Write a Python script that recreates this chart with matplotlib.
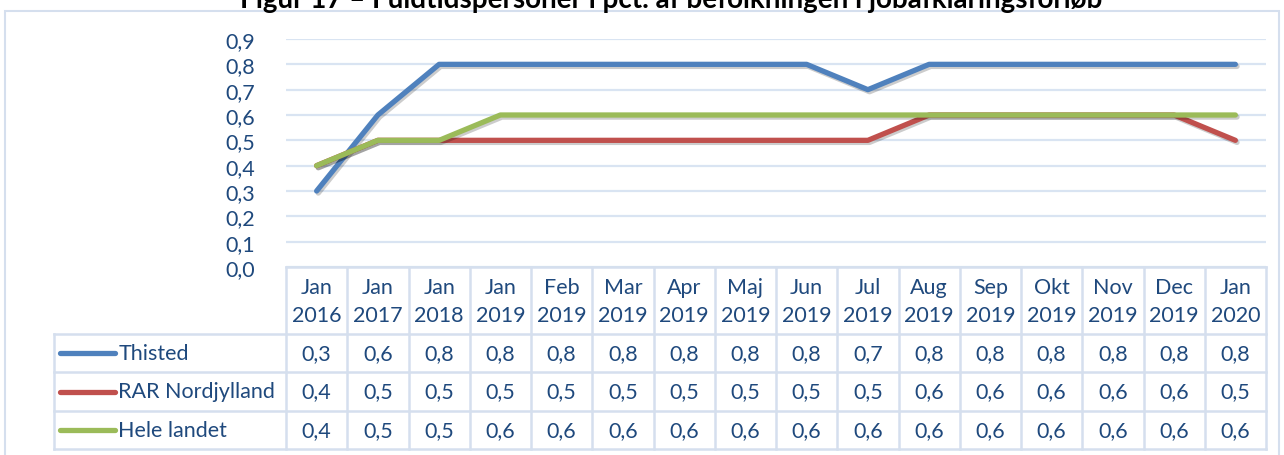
import matplotlib
matplotlib.use("Agg")
import matplotlib.pyplot as plt
import matplotlib.patheffects as pe
from matplotlib.patches import Rectangle

# === Data ===
maaneder = ["Jan", "Jan", "Jan", "Jan", "Feb", "Mar", "Apr", "Maj",
            "Jun", "Jul", "Aug", "Sep", "Okt", "Nov", "Dec", "Jan"]
aar = ["2016", "2017", "2018", "2019", "2019", "2019", "2019", "2019",
       "2019", "2019", "2019", "2019", "2019", "2019", "2019", "2020"]
serier = ["Thisted", "RAR Nordjylland", "Hele landet"]
thisted = [0.3, 0.6, 0.8, 0.8, 0.8, 0.8, 0.8, 0.8, 0.8, 0.7, 0.8, 0.8, 0.8, 0.8, 0.8, 0.8]
rar_nord = [0.4, 0.5, 0.5, 0.5, 0.5, 0.5, 0.5, 0.5, 0.5, 0.5, 0.6, 0.6, 0.6, 0.6, 0.6, 0.5]
hele_landet = [0.4, 0.5, 0.5, 0.6, 0.6, 0.6, 0.6, 0.6, 0.6, 0.6, 0.6, 0.6, 0.6, 0.6, 0.6, 0.6]
y_ticks = [0.0, 0.1, 0.2, 0.3, 0.4, 0.5, 0.6, 0.7, 0.8, 0.9]

farver = ["#4F81BD", "#C0504D", "#9BBB59"]
tekst = "#1F497D"
kant = "#D5DFEE"
plt.rcParams["font.family"] = ["Lato", "DejaVu Sans"]
fs = 15.5

W, H = 1284, 456
def fx(x): return x / W
def fy(y): return 1 - y / H

fig = plt.figure(figsize=(W / 100, H / 100), dpi=100)

# ramme
fig.patches.append(Rectangle((fx(5), fy(470)), fx(1279) - fx(5), fy(12) - fy(470),
                             transform=fig.transFigure, fill=False,
                             edgecolor=kant, lw=1.5))

# titel (delvist skaaret af i toppen, som i forlaegget)
fig.text(fx(671), fy(8), "Figur 17 \u2013 Fuldtidspersoner i pct. af befolkningen i jobafklaringsforløb",
         ha="center", va="baseline", fontsize=20, fontweight="bold", color="black")

# === Linjediagram ===
ax = fig.add_axes([fx(286), fy(268), fx(1266) - fx(286), fy(40) - fy(268)])
x = list(range(len(maaneder)))
skygge = [pe.SimpleLineShadow(offset=(1.2, -1.5), alpha=0.2, shadow_color="black"), pe.Normal()]
for vals, c in zip([thisted, rar_nord, hele_landet], farver):
    ax.plot(x, vals, color=c, lw=3.8, solid_joinstyle="round", solid_capstyle="round",
            path_effects=skygge, zorder=3)
ax.set_xlim(-0.5, len(maaneder) - 0.5)
ax.set_ylim(0, 0.9)
ax.set_yticks(y_ticks)
ax.set_yticklabels([f"{v:.1f}".replace(".", ",") for v in y_ticks], fontsize=fs, color=tekst)
ax.tick_params(axis="y", length=0, pad=22)
ax.set_xticks([])
ax.grid(axis="y", color="#D9E4F2", lw=1.6)
ax.set_axisbelow(True)
for s in ax.spines.values():
    s.set_visible(False)

# === Datatabel ===
leg_w = (286 - 54) / ((1266 - 286) / len(maaneder))
tx = fig.add_axes([fx(54), fy(450), fx(1266) - fx(54), fy(268) - fy(450)])
tx.set_xlim(-0.5 - leg_w, len(maaneder) - 0.5)
tx.set_ylim(182, 0)
tx.axis("off")

rows = [0, 67, 105, 144, 182]
n = len(maaneder)
# vandrette linjer
tx.plot([-0.5, n - 0.5], [rows[0]] * 2, color=kant, lw=1.8, clip_on=False)
for r in rows[1:]:
    tx.plot([-0.5 - leg_w, n - 0.5], [r, r], color=kant, lw=1.8, clip_on=False)
# lodrette linjer
for k in range(n + 1):
    tx.plot([k - 0.5] * 2, [rows[0], rows[-1]], color=kant, lw=1.8, clip_on=False)
tx.plot([-0.5 - leg_w] * 2, [rows[1], rows[-1]], color=kant, lw=1.8, clip_on=False)

for i in range(n):
    tx.text(i, 20, maaneder[i], ha="center", va="center", fontsize=fs, color=tekst)
    tx.text(i, 48, aar[i], ha="center", va="center", fontsize=fs, color=tekst)

for j, (navn, vals, c) in enumerate(zip(serier, [thisted, rar_nord, hele_landet], farver)):
    yc = (rows[j + 1] + rows[j + 2]) / 2
    tx.plot([-0.5 - leg_w + 0.1, -0.5 - leg_w + 1.0], [yc, yc], color=c, lw=3.8,
            solid_capstyle="round", clip_on=False)
    tx.text(-0.5 - leg_w + 1.05, yc, navn, ha="left", va="center", fontsize=fs, color=tekst)
    for i, v in enumerate(vals):
        tx.text(i, yc, f"{v:.1f}".replace(".", ","), ha="center", va="center",
                fontsize=fs, color=tekst)

fig.savefig("out.png", dpi=100)
